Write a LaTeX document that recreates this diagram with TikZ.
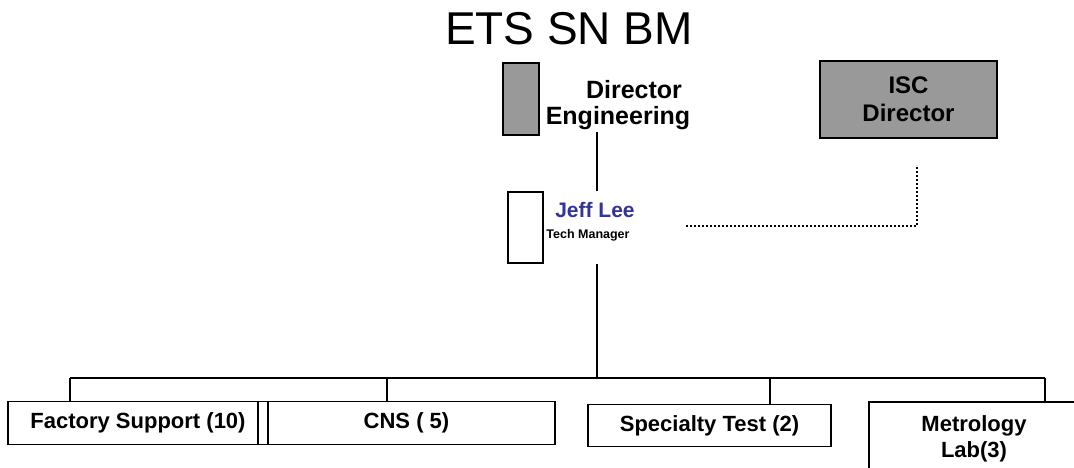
\documentclass[tikz,border=0pt]{standalone}
\usepackage{fontspec}
\setmainfont{Liberation Sans}
\definecolor{namecol}{RGB}{51,51,153}
\definecolor{boxgray}{RGB}{153,153,153}

\begin{document}
\begin{tikzpicture}[x=1pt,y=-1pt,line width=1.8pt,
  unit/.style={draw,inner sep=0pt,align=center,font=\bfseries\fontsize{22}{26}\selectfont},
  graybox/.style={draw,fill=boxgray,inner sep=0pt,align=center,font=\bfseries\fontsize{24}{28}\selectfont},
  dotline/.style={line width=1.6pt,dash pattern=on 1.6pt off 2.4pt}]
\useasboundingbox (0,0) rectangle (1074,468);
\clip (0,0) rectangle (1074,468);
\node[font=\fontsize{46}{50}\selectfont,anchor=base] (title) at (569,45){ETS SN BM};
\node[graybox,minimum width=36pt,minimum height=72pt] (dirbox) at (521,99){};
\node[inner sep=1pt,align=center,font=\bfseries\fontsize{25}{26}\selectfont] (dirtext) at (618,105){\hspace*{32pt}Director\\Engineering};
\node[graybox,minimum width=177pt,minimum height=77pt] (isc) at (908.5,99.5){ISC\\Director};
\node[draw,fill=white,minimum width=35pt,minimum height=71pt] (jeffbox) at (525.5,227.5){};
\node[anchor=base,text=namecol,font=\bfseries\fontsize{21}{24}\selectfont] (jeffname) at (595,218){Jeff Lee};
\node[anchor=base,font=\bfseries\fontsize{12.5}{14}\selectfont] (jefftitle) at (588,238){Tech Manager};
\coordinate (bus) at (597,378);
\draw (dirtext.south -| bus)--(jeffbox.north -| bus);
\draw (jeffbox.south -| bus)--(bus);
\coordinate (dotA) at (686,226);\coordinate (dotB) at (917,165);
\draw[dotline] (dotA)-|(dotB);
\node[unit,minimum width=260pt,minimum height=43pt] (fs) at (138,423){Factory Support (10)};
\node[unit,minimum width=297pt,minimum height=43pt] (cns) at (406.5,423){CNS ( 5)};
\node[unit,minimum width=243pt,minimum height=42pt] (spt) at (709.5,425.5){Specialty Test (2)};
\node[unit,minimum width=210pt,minimum height=74pt] (met) at (974,439){Metrology\\Lab(3)};
\coordinate (d1) at (70,378);\coordinate (d2) at (387,378);\coordinate (d3) at (770,378);\coordinate (d4) at (1045,378);
\draw (d1)--(d4);
\foreach \d/\n in {d1/fs,d2/cns,d3/spt,d4/met} \draw (\d)--(\d |- \n.north);
\end{tikzpicture}
\end{document}
